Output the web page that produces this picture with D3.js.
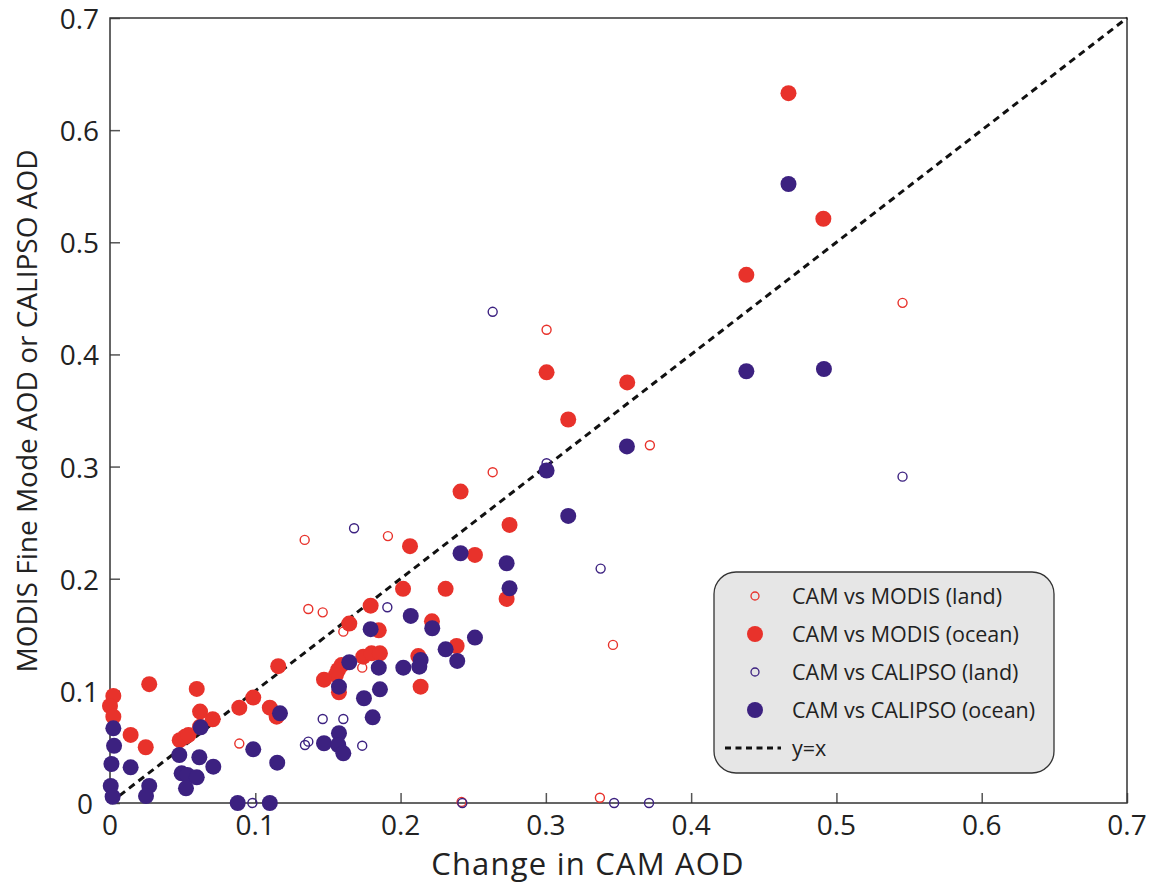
<!DOCTYPE html>
<html>
<head>
<meta charset="utf-8">
<script src="https://cdn.jsdelivr.net/npm/d3@7"></script>
<style>
  body { margin: 0; background: #fff; }
  text { font-family: "Open Sans", "Noto Sans", sans-serif; fill: #222; }
</style>
</head>
<body>
<div id="chart"></div>
<script>
var modisLand = [
    [0.134, 0.2346], [0.1365, 0.173], [0.1464, 0.170], [0.1606, 0.1528], [0.1736, 0.1207],
    [0.1913, 0.238], [0.2634, 0.295], [0.3005, 0.422], [0.3716, 0.319], [0.5455, 0.446],
    [0.3462, 0.141], [0.3372, 0.0047], [0.242, 0.001], [0.089, 0.053]
];
var modisOcean = [
    [0.467, 0.633], [0.491, 0.521], [0.438, 0.471], [0.3005, 0.384], [0.356, 0.375],
    [0.3154, 0.342], [0.275, 0.248], [0.2413, 0.2777], [0.2512, 0.2212], [0.2065, 0.229],
    [0.231, 0.191], [0.273, 0.182], [0.2017, 0.191], [0.1794, 0.176], [0.2216, 0.162],
    [0.1647, 0.160], [0.185, 0.154], [0.2386, 0.140], [0.1743, 0.1305], [0.180, 0.1335],
    [0.1858, 0.1335], [0.2122, 0.131], [0.2138, 0.1037], [0.1594, 0.123], [0.157, 0.1186],
    [0.1555, 0.1142], [0.1473, 0.110], [0.1576, 0.0987], [0.1158, 0.122], [0.027, 0.106],
    [0.0597, 0.1017], [0.0023, 0.0955], [0.0, 0.0865], [0.0023, 0.077], [0.089, 0.085],
    [0.0986, 0.094], [0.110, 0.085], [0.1147, 0.077], [0.062, 0.0815], [0.0707, 0.0747],
    [0.062, 0.068], [0.0142, 0.0607], [0.0246, 0.0497], [0.048, 0.056], [0.0516, 0.059],
    [0.054, 0.0607]
];
var calipsoLand = [
    [0.2634, 0.438], [0.3005, 0.303], [0.3377, 0.209], [0.5455, 0.291], [0.168, 0.245],
    [0.1909, 0.1746], [0.1464, 0.0749], [0.1606, 0.0749], [0.1342, 0.0517], [0.1365, 0.0547],
    [0.1736, 0.0511], [0.098, 0], [0.2425, 0], [0.347, 0], [0.371, 0]
];
var calipsoOcean = [
    [0.467, 0.552], [0.438, 0.385], [0.4914, 0.387], [0.3005, 0.2965], [0.3558, 0.318],
    [0.3154, 0.256], [0.273, 0.2138], [0.275, 0.1915], [0.2413, 0.2227], [0.207, 0.1668],
    [0.1794, 0.155], [0.2218, 0.1558], [0.2512, 0.1475], [0.231, 0.137], [0.239, 0.1267],
    [0.1647, 0.1255], [0.185, 0.1207], [0.2019, 0.1207], [0.2138, 0.1276], [0.2129, 0.1216],
    [0.1576, 0.1037], [0.1858, 0.1014], [0.1748, 0.0934], [0.1808, 0.0764], [0.117, 0.080],
    [0.1576, 0.0622], [0.1473, 0.0533], [0.1571, 0.0517], [0.1606, 0.0443], [0.0023, 0.0666],
    [0.0028, 0.051], [0.001, 0.0348], [0.0005, 0.0152], [0.0018, 0.0056], [0.0142, 0.0318],
    [0.027, 0.0152], [0.0248, 0.0062], [0.0477, 0.0428], [0.0615, 0.0408], [0.0711, 0.0324],
    [0.0493, 0.0265], [0.0532, 0.025], [0.0597, 0.0229], [0.0523, 0.0131], [0.0624, 0.0675],
    [0.0986, 0.0479], [0.1151, 0.036], [0.0879, 0], [0.110, 0]
];
var tickValues = [0, 0.1, 0.2, 0.3, 0.4, 0.5, 0.6, 0.7];
var tickLabels = ["0", "0.1", "0.2", "0.3", "0.4", "0.5", "0.6", "0.7"];
var legendLabels = ["CAM vs MODIS (land)", "CAM vs MODIS (ocean)", "CAM vs CALIPSO (land)", "CAM vs CALIPSO (ocean)", "y=x"];

var width = 1149, height = 886;
var margin = { top: 18, right: 22, bottom: 83, left: 110 };
var red = "#e8322b", blue = "#3c2180";

var svg = d3.select("#chart").append("svg")
    .attr("width", width)
    .attr("height", height);

var x = d3.scaleLinear().domain([0, 0.7]).range([margin.left, width - margin.right]);
var y = d3.scaleLinear().domain([0, 0.7]).range([height - margin.bottom, margin.top]);

// Axes with inward ticks
svg.append("g")
    .attr("transform", `translate(0,${height - margin.bottom})`)
    .call(d3.axisTop(x).tickValues(tickValues).tickSize(10).tickFormat(""))
    .call(g => g.select(".domain").remove())
    .call(g => g.selectAll(".tick line").attr("stroke", "#555").attr("stroke-width", 1.5));
svg.append("g")
    .attr("transform", `translate(${margin.left},0)`)
    .call(d3.axisRight(y).tickValues(tickValues).tickSize(10).tickFormat(""))
    .call(g => g.select(".domain").remove())
    .call(g => g.selectAll(".tick line").attr("stroke", "#555").attr("stroke-width", 1.5));

// Tick labels
svg.append("g").selectAll("text")
    .data(tickValues)
    .join("text")
        .attr("x", d => x(d))
        .attr("y", height - margin.bottom + 32)
        .attr("text-anchor", "middle")
        .style("font-size", "28px")
        .text((d, i) => tickLabels[i]);
svg.append("g").selectAll("text")
    .data(tickValues)
    .join("text")
        .attr("x", d => d === 0 ? margin.left - 17 : margin.left - 11)
        .attr("y", d => y(d) + 11)
        .attr("text-anchor", "end")
        .style("font-size", "28px")
        .text((d, i) => tickLabels[i]);

// Frame
svg.append("rect")
    .attr("x", margin.left)
    .attr("y", margin.top)
    .attr("width", width - margin.left - margin.right)
    .attr("height", height - margin.top - margin.bottom)
    .attr("fill", "none")
    .attr("stroke", "#333")
    .attr("stroke-width", 1.5);

// y = x line
svg.append("line")
    .attr("x1", x(0)).attr("y1", y(0))
    .attr("x2", x(0.7)).attr("y2", y(0.7))
    .attr("stroke", "#111")
    .attr("stroke-width", 3)
    .attr("stroke-dasharray", "7,5");

// Scatter layers
function openDots(data, color) {
    svg.append("g").selectAll("circle")
        .data(data)
        .join("circle")
            .attr("cx", d => x(d[0]))
            .attr("cy", d => y(d[1]))
            .attr("r", 4.5)
            .attr("fill", "none")
            .attr("stroke", color)
            .attr("stroke-width", 1.4);
}
function filledDots(data, color) {
    svg.append("g").selectAll("circle")
        .data(data)
        .join("circle")
            .attr("cx", d => x(d[0]))
            .attr("cy", d => y(d[1]))
            .attr("r", 8)
            .attr("fill", color);
}
openDots(modisLand, red);
filledDots(modisOcean, red);
openDots(calipsoLand, blue);
filledDots(calipsoOcean, blue);

// Axis titles
svg.append("text")
    .attr("x", 588)
    .attr("y", 875)
    .attr("text-anchor", "middle")
    .style("font-size", "31px")
    .style("letter-spacing", "1.2px")
    .text("Change in CAM AOD");
svg.append("text")
    .attr("transform", "translate(37,411) rotate(-90)")
    .attr("text-anchor", "middle")
    .style("font-size", "28px")
    .text("MODIS Fine Mode AOD or CALIPSO AOD");

// Legend
var legend = svg.append("g");
legend.append("rect")
    .attr("x", 714).attr("y", 572)
    .attr("width", 340).attr("height", 201)
    .attr("rx", 22).attr("ry", 22)
    .attr("fill", "#e6e6e6")
    .attr("stroke", "#333")
    .attr("stroke-width", 1.3);
var rowY = [596, 634, 672, 710, 748];
var markers = [
    { r: 4, fill: "none", stroke: red },
    { r: 8, fill: red, stroke: "none" },
    { r: 4, fill: "none", stroke: blue },
    { r: 8, fill: blue, stroke: "none" }
];
markers.forEach(function (m, i) {
    legend.append("circle")
        .attr("cx", 755).attr("cy", rowY[i])
        .attr("r", m.r)
        .attr("fill", m.fill)
        .attr("stroke", m.stroke)
        .attr("stroke-width", 1.3);
});
legend.append("line")
    .attr("x1", 725).attr("x2", 781)
    .attr("y1", rowY[4]).attr("y2", rowY[4])
    .attr("stroke", "#111")
    .attr("stroke-width", 3)
    .attr("stroke-dasharray", "6,4.5");
legend.selectAll("text.lbl")
    .data(legendLabels)
    .join("text")
        .attr("class", "lbl")
        .attr("x", 792)
        .attr("y", (d, i) => rowY[i] + 8)
        .style("font-size", "21.5px")
        .text(d => d);
</script>
</body>
</html>
